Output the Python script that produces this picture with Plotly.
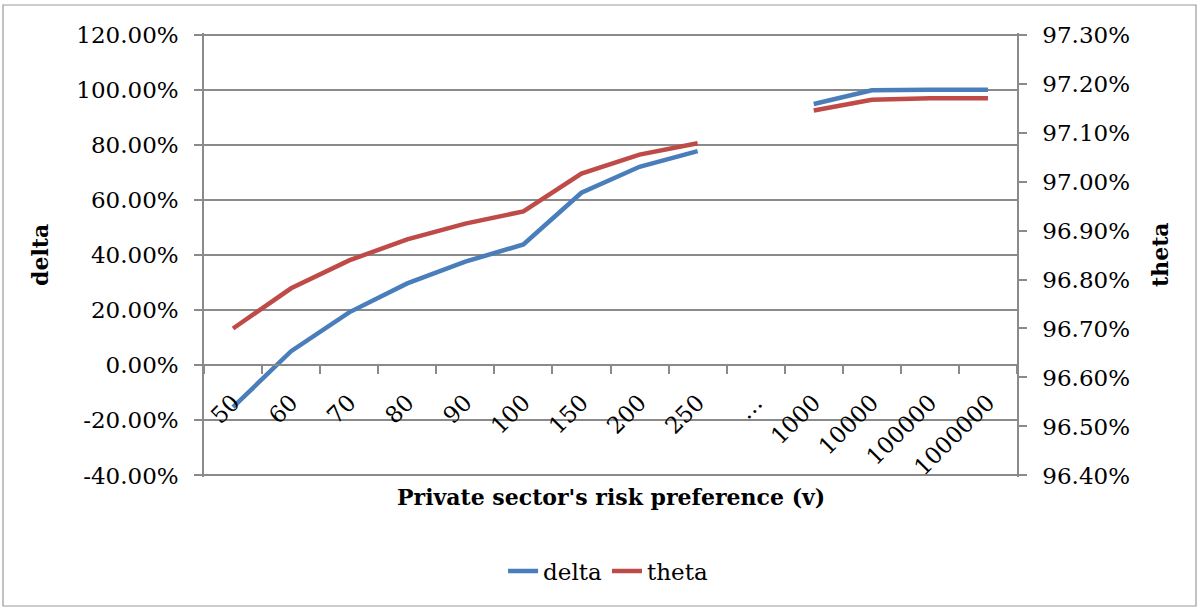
import plotly.graph_objects as go

# Category axis: private sector's risk preference (v); "…" marks the break in the scale
categories = ["50", "60", "70", "80", "90", "100", "150", "200", "250", "…",
              "1000", "10000", "100000", "1000000"]

# delta (left axis) and theta (right axis), as fractions; None leaves the gap at "…"
delta = [-0.152, 0.051, 0.192, 0.297, 0.376, 0.438, 0.626, 0.720, 0.777, None,
         0.948, 0.998, 1.000, 1.000]
theta = [0.96700, 0.96782, 0.96839, 0.96882, 0.96914, 0.96939, 0.97016, 0.97055, 0.97078, None,
         0.97145, 0.97167, 0.97170, 0.97170]

delta_ticks = [-0.4, -0.2, 0.0, 0.2, 0.4, 0.6, 0.8, 1.0, 1.2]
theta_ticks = [0.964, 0.965, 0.966, 0.967, 0.968, 0.969, 0.970, 0.971, 0.972, 0.973]

W, H = 1202, 609
ML, MR, MT, MB = 204, 185, 33, 132
PW, PH = W - ML - MR, H - MT - MB

FONT = "DejaVu Serif"
GRID = "#8a8a8a"
BLUE = "#4A7EBB"
RED = "#BE4B48"


def px_x(p):
    return (p - ML) / PW


def px_y(p):
    return (H - MB - p) / PH


fig = go.Figure()
fig.add_trace(go.Scatter(x=categories, y=delta, name="delta", mode="lines",
                         line=dict(color=BLUE, width=4.5), connectgaps=False))
fig.add_trace(go.Scatter(x=categories, y=theta, name="theta", mode="lines", yaxis="y2",
                         line=dict(color=RED, width=4.5), connectgaps=False))

# small padding so the end gridlines (-40% / 120%) sit just inside the plot area and get drawn
pad = 0.0055
y_lo, y_hi = delta_ticks[0] - pad, delta_ticks[-1] + pad
zero_pos = (0 - y_lo) / (y_hi - y_lo)
t_pad = pad * (theta_ticks[-1] - theta_ticks[0]) / (delta_ticks[-1] - delta_ticks[0])

fig.update_layout(
    width=W, height=H,
    margin=dict(l=ML, r=MR, t=MT, b=MB),
    paper_bgcolor="white", plot_bgcolor="white",
    font=dict(family=FONT, size=23, color="black"),
    showlegend=True,
    legend=dict(orientation="h", x=0.497, xanchor="center", y=px_y(571), yanchor="middle",
                font=dict(family=FONT, size=23), bgcolor="rgba(0,0,0,0)"),
    xaxis=dict(type="category", range=[-0.5, len(categories) - 0.5],
               anchor="free", position=zero_pos,
               showline=True, linecolor=GRID, linewidth=1.5,
               ticks="outside", tickson="boundaries", ticklen=8, tickcolor=GRID, tickwidth=1.5,
               tickangle=-45, showgrid=False, zeroline=False, ticklabelstandoff=14,
               tickfont=dict(family=FONT, size=23)),
    yaxis=dict(range=[y_lo, y_hi], tickvals=delta_ticks,
               ticktext=[f"{v * 100:.2f}%" for v in delta_ticks],
               showline=True, linecolor=GRID, linewidth=1.5,
               ticks="outside", ticklen=8, tickcolor=GRID, tickwidth=1.5,
               showgrid=True, gridcolor=GRID, gridwidth=1.5, zeroline=False,
               ticklabelstandoff=11),
    yaxis2=dict(range=[theta_ticks[0] - t_pad, theta_ticks[-1] + t_pad],
                overlaying="y", side="right",
                tickvals=theta_ticks, ticktext=[f"{v * 100:.2f}%" for v in theta_ticks],
                showline=True, linecolor=GRID, linewidth=1.5,
                ticks="outside", ticklen=8, tickcolor=GRID, tickwidth=1.5,
                showgrid=False, zeroline=False, ticklabelstandoff=11),
)

# Axis titles
title_font = dict(family=FONT, size=22)
fig.add_annotation(text="<b>delta</b>", x=px_x(40), y=px_y(255), xref="paper", yref="paper",
                   xanchor="center", yanchor="middle",
                   textangle=-90, showarrow=False, font=title_font)
fig.add_annotation(text="<b>theta</b>", x=px_x(1160), y=px_y(255), xref="paper", yref="paper",
                   xanchor="center", yanchor="middle",
                   textangle=-90, showarrow=False, font=title_font)
fig.add_annotation(text="<b>Private sector's risk preference (v)</b>", x=px_x(611), y=px_y(497),
                   xref="paper", yref="paper", xanchor="center", yanchor="middle",
                   showarrow=False, font=title_font)

# Chart frame
fig.add_shape(type="rect", xref="paper", yref="paper",
              x0=px_x(3), x1=px_x(1196), y0=px_y(606), y1=px_y(5),
              line=dict(color="#9a9a9a", width=1.2), fillcolor="rgba(0,0,0,0)", layer="below")

fig.write_html("out.html")
